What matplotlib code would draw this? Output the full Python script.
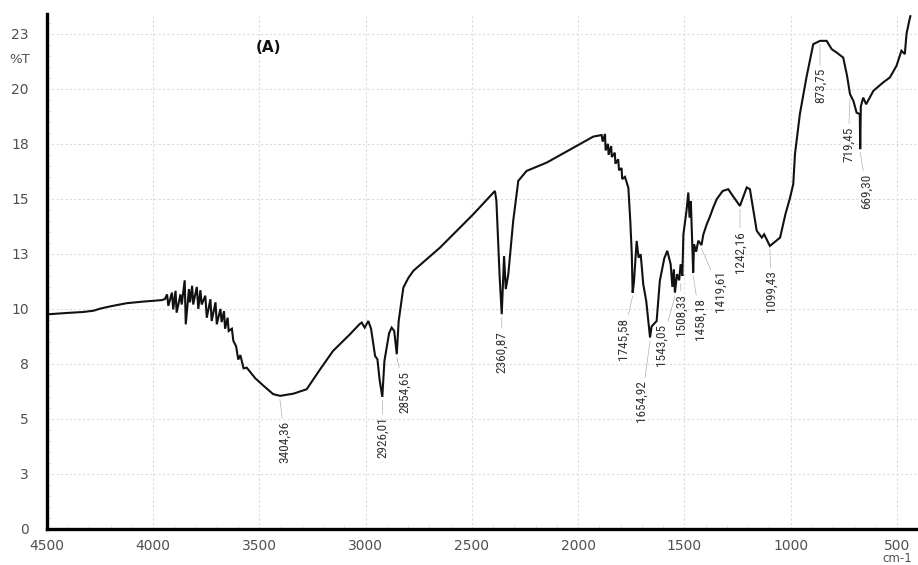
import matplotlib
matplotlib.use("Agg")
import matplotlib.pyplot as plt
from matplotlib.ticker import FixedLocator, MultipleLocator
from matplotlib import font_manager

# ---- data: IR spectrum (wavenumber cm-1, %T) ----
wavenumber = [
    4490, 4400, 4330, 4280, 4251, 4200, 4125, 4050, 3968,
    3960, 3945, 3935, 3929, 3912, 3906, 3895, 3890, 3872, 3866, 3852, 3847,
    3832, 3827, 3817, 3812, 3795, 3788, 3778, 3772, 3755, 3748, 3731, 3725,
    3707, 3701, 3684, 3678, 3667, 3662, 3650, 3645, 3630, 3623, 3610, 3600,
    3590, 3575,
    3560, 3520, 3480, 3436, 3403, 3340, 3278, 3215, 3154, 3074, 3030, 3019,
    3005, 2988, 2975, 2956, 2945, 2935, 2922, 2912, 2890, 2878, 2866, 2854,
    2845, 2823, 2800, 2776, 2650, 2494, 2392, 2385, 2370, 2360, 2349, 2341,
    2329, 2306, 2282, 2243, 2148, 2007, 1929,
    1890, 1885, 1874, 1871, 1860, 1857, 1845, 1842, 1828, 1825, 1812, 1808,
    1796, 1793, 1780, 1764, 1755, 1748, 1744, 1738, 1725, 1716, 1706, 1694,
    1680, 1662, 1655, 1631, 1616, 1595, 1581, 1565, 1557, 1550, 1545, 1535,
    1525, 1518, 1510, 1505, 1490, 1482, 1476, 1470, 1459, 1455, 1445, 1435,
    1420, 1411, 1395, 1380, 1365, 1348, 1320, 1294, 1270, 1239, 1207, 1192,
    1160, 1136, 1125, 1098, 1050, 1025, 1003, 988, 980, 957, 926, 894, 862,
    831, 807, 784, 753, 735, 721, 705, 690, 675, 673, 670, 659, 645, 611,
    565, 533, 502, 479, 463, 455, 442, 437,
]
transmittance = [
    9.76, 9.82, 9.86, 9.92, 10.01, 10.12, 10.26, 10.33, 10.39,
    10.40, 10.45, 10.66, 10.14, 10.74, 9.98, 10.82, 9.83, 10.66, 10.20, 11.30, 9.30,
    10.90, 10.30, 11.05, 10.20, 11.00, 10.00, 10.85, 10.20, 10.60, 9.60, 10.44, 9.45,
    10.30, 9.30, 10.00, 9.40, 9.90, 9.10, 9.60, 9.00, 9.10, 8.55, 8.30, 7.70,
    7.90, 7.30,
    7.33, 6.85, 6.50, 6.13, 6.05, 6.15, 6.35, 7.25, 8.09, 8.85, 9.30, 9.38,
    9.15, 9.45, 9.10, 7.86, 7.71, 6.80, 6.00, 7.64, 8.90, 9.15, 9.00, 7.94,
    9.45, 10.97, 11.40, 11.73, 12.79, 14.30, 15.36, 14.90, 11.50, 9.76, 12.40, 10.90,
    11.58, 14.00, 15.82, 16.27, 16.65, 17.41, 17.83,
    17.90, 17.60, 17.95, 17.20, 17.50, 17.00, 17.40, 16.90, 17.10, 16.60, 16.80, 16.30,
    16.40, 15.90, 16.00, 15.50, 14.00, 12.50, 10.74, 11.20, 13.09, 12.33, 12.48, 11.12,
    10.36, 8.70, 9.20, 9.45, 11.27, 12.30, 12.64, 12.03, 11.00, 11.80, 10.74, 11.58,
    11.30, 12.03, 11.50, 13.39, 14.50, 15.29, 14.15, 14.90, 11.65, 12.94, 12.60, 13.10,
    12.90, 13.39, 13.85, 14.20, 14.60, 14.99, 15.36, 15.44, 15.10, 14.68, 15.52, 15.44,
    13.55, 13.24, 13.39, 12.86, 13.24, 14.30, 15.06, 15.67, 17.03, 18.85, 20.52, 22.03, 22.18,
    22.18, 21.80, 21.65, 21.42, 20.60, 19.76, 19.45, 18.92, 18.85, 17.26, 19.20, 19.60, 19.30, 19.91,
    20.29, 20.52, 21.05, 21.73, 21.58, 22.50, 23.10, 23.30,
]

# peak annotations
peak_labels = ["3404,36", "2926,01", "2854,65", "2360,87", "1745,58", "1654,92",
               "1543,05", "1508,33", "1458,18", "1419,61", "1242,16", "1099,43",
               "873,75", "719,45", "669,30"]
peak_wn = [3404, 2922, 2854, 2360, 1744, 1662, 1545, 1518, 1459, 1420, 1239,
           1098, 862, 721, 673]
peak_t = [6.05, 6.0, 7.94, 9.76, 10.74, 8.7, 10.74, 11.3, 11.65, 12.9, 14.68,
          12.86, 22.18, 19.76, 17.26]
# label placement (x in cm-1, top of text in %T)
label_x = [3380, 2919, 2815, 2359, 1789, 1701, 1607, 1513, 1427, 1333, 1239,
           1090, 862, 729, 643]
label_top = [4.9, 5.1, 7.2, 9.0, 9.6, 6.75, 9.3, 10.7, 10.5, 11.75, 13.55,
             11.75, 20.95, 18.3, 16.15]

x_ticks = [4500, 4000, 3500, 3000, 2500, 2000, 1500, 1000, 500]
y_ticks = [0, 2.5, 5, 7.5, 10, 12.5, 15, 17.5, 20, 22.5]
y_tick_labels = ["0", "3", "5", "8", "10", "13", "15", "18", "20", "23"]

# pick a narrow face for the peak labels if one is installed
installed = {f.name for f in font_manager.fontManager.ttflist}
narrow_candidates = ["Liberation Sans Narrow", "Roboto Condensed",
                     "Open Sans Condensed", "DejaVu Sans"]
narrow = [n for n in narrow_candidates if n in installed] or ["DejaVu Sans"]
has_condensed_dejavu = any(f.name == "DejaVu Sans" and f.stretch == "condensed"
                           for f in font_manager.fontManager.ttflist)

# ---- figure ----
fig = plt.figure(figsize=(9.18, 5.65), dpi=100)
ax = fig.add_axes([47 / 918, 1 - 529 / 565, 871 / 918, 515 / 565])

ax.plot(wavenumber, transmittance, color="#111111", lw=1.5, solid_joinstyle="miter")

ax.set_xlim(4500, 401)
ax.set_ylim(0, 23.4)

ax.xaxis.set_major_locator(FixedLocator(x_ticks))
ax.yaxis.set_major_locator(FixedLocator(y_ticks))
ax.set_yticklabels(y_tick_labels)
ax.xaxis.set_minor_locator(MultipleLocator(100))
ax.yaxis.set_minor_locator(MultipleLocator(0.5))

ax.grid(True, which="major", color="#d9dde0", lw=0.8, linestyle=(0, (2, 2)))
for s in ("top", "right"):
    ax.spines[s].set_visible(False)
for s in ("left", "bottom"):
    ax.spines[s].set_linewidth(2.4)
    ax.spines[s].set_color("black")

ax.tick_params(axis="both", which="major", length=0, labelsize=10,
               labelcolor="#505050")
ax.tick_params(axis="y", which="major", pad=13)
ax.tick_params(axis="x", which="major", pad=7)
ax.tick_params(axis="both", which="minor", length=3, direction="in",
               color="#dddddd", width=0.6)

if narrow[0] == "DejaVu Sans":
    lab_kw = dict(fontsize=9, fontstretch="condensed" if has_condensed_dejavu else "normal")
    if not has_condensed_dejavu:
        lab_kw["fontsize"] = 8
else:
    lab_kw = dict(fontsize=9.5)

for lab, pw, pt, lx, lt in zip(peak_labels, peak_wn, peak_t, label_x, label_top):
    ax.annotate(lab, xy=(pw, pt - 0.15), xytext=(lx, lt),
                rotation=90, ha="center", va="top",
                family=narrow, color="#333333",
                arrowprops=dict(arrowstyle="-", lw=0.5, color="#b0b0b0",
                                shrinkA=0, shrinkB=0),
                **lab_kw)

ax.text(0.254, 0.934, "(A)", transform=ax.transAxes, fontsize=11,
        fontweight="bold", ha="center", va="center", color="#111111")
fig.text(20 / 918, 1 - 60 / 565, "%T", fontsize=9.5, color="#505050",
         ha="center", va="center")
fig.text(897 / 918, 0.0, "cm-1", fontsize=8.5, color="#505050",
         ha="center", va="bottom")

fig.savefig("out.png", dpi=100)
